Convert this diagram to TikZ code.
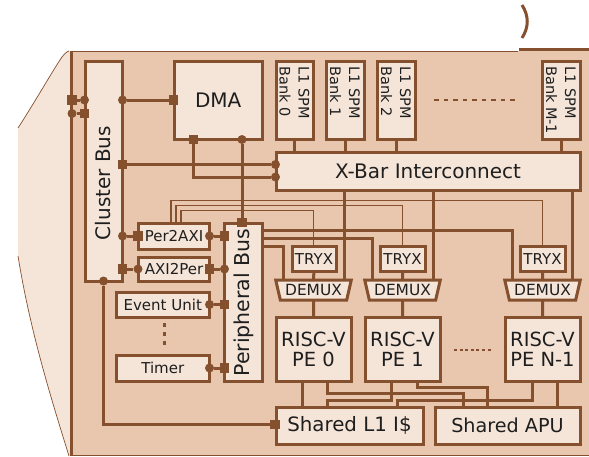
\documentclass[tikz,border=0pt]{standalone}
\usepackage{fontspec}
\setmainfont{DejaVu Sans}
\usetikzlibrary{shapes.geometric}
\definecolor{wirec}{HTML}{84502E}
\definecolor{darkf}{HTML}{E9C6AE}
\definecolor{lightf}{HTML}{F5E5D9}
\definecolor{inkc}{HTML}{1E1E1E}
\tikzset{
  wire/.style={draw=wirec,line width=3pt,line join=miter},
  thinwire/.style={draw=wirec,line width=1.5pt},
  edge/.style={draw=wirec,line width=0.7pt},
  boxn/.style={draw=wirec,fill=lightf,line width=3pt,rectangle,inner sep=0pt,outer sep=0pt,text=inkc,align=center,font=\fontsize{#1}{#1}\selectfont},
  boxn/.default=15,
  demuxn/.style={draw=wirec,fill=lightf,line width=3pt,trapezium,trapezium stretches=true,shape border rotate=180,trapezium left angle=71,trapezium right angle=71,minimum width=76pt,minimum height=20pt,inner sep=0pt,outer sep=0pt,text=inkc,font=\fontsize{15.4}{15.4}\selectfont},
  banktxt/.style={rotate=-90,anchor=west,inner sep=0pt,align=left,text=inkc,font=\fontsize{14.5}{19}\selectfont},
  rottxt/.style={rotate=90,inner sep=0pt,text=inkc,font=\fontsize{20}{20}\selectfont},
  jdot/.style={circle,fill=wirec,inner sep=0pt,minimum size=9pt},
  jsq/.style={rectangle,fill=wirec,inner sep=0pt,minimum size=9.5pt},
  dashw/.style={draw=wirec,line width=1.6pt,dash pattern=on 4.5pt off 5pt},
  dashs/.style={draw=wirec,line width=1.7pt,dash pattern=on 3pt off 2.6pt},
  dashv/.style={draw=wirec,line width=2.6pt,dash pattern=on 4pt off 5pt},
}
\newcommand{\bx}[7][15]{\node[boxn=#1,minimum width={(#5)-(#3)},minimum height={(#6)-(#4)}] (#2) at ({((#3)+(#5))/2},{((#4)+(#6))/2}) {#7};}
\begin{document}
\begin{tikzpicture}[x=1pt,y=-1pt]
\useasboundingbox (0,0) rectangle (589,456);
% chip outline
\fill[lightf] (18,128) .. controls (33,105) and (52,72) .. (60,60) .. controls (63,55) and (66,52) .. (69,51) -- (72,51) -- (72,456) -- (69,456) .. controls (50,395) and (30,330) .. (18,256) -- cycle;
\draw[edge] (18,128) .. controls (33,105) and (52,72) .. (60,60) .. controls (63,55) and (66,52) .. (69,51);
\draw[edge] (18,256) .. controls (30,330) and (50,395) .. (69,456);
\fill[darkf] (71,51) rectangle (589,456);
\draw[edge] (71,51) -- (518,51);
\draw[edge] (71,455.6) -- (589,455.6);
\coordinate (tl) at (71.5,51);
\coordinate (bl) at (71.5,456);
\draw[wire] (tl) -- (bl);
\coordinate (tr1) at (519,49.7);
\coordinate (tr2) at (589,49.7);
\draw[wire] (tr1) -- (tr2);
\coordinate (pa) at (522,5);
\coordinate (pb) at (522,38);
\draw[wire] (pa) .. controls (529,16) and (529,27) .. (pb);
% boxes
\bx[20]{cbus}{85}{61}{122.5}{281}{}
\node[rottxt] (cbust) at (103.5,183) {Cluster Bus};
\bx[20]{dma}{174}{61}{262.5}{139}{DMA}
\bx{b0}{276}{61}{313}{139}{}
\bx{b1}{326.5}{61}{364}{139}{}
\bx{b2}{377.5}{61}{415}{139}{}
\bx{bm}{542.5}{61}{580}{139}{}
\node[banktxt] (t0) at (294.5,66) {L1 SPM\\Bank 0};
\node[banktxt] (t1) at (345,66) {L1 SPM\\Bank 1};
\node[banktxt] (t2) at (396,66) {L1 SPM\\Bank 2};
\node[banktxt] (tm) at (561,66) {L1 SPM\\Bank M-1};
\bx[20]{xbar}{276}{152}{580}{190}{X-Bar Interconnect}
\bx{p2a}{138.5}{223}{209.5}{249}{Per2AXI}
\bx{a2p}{138.5}{257}{209.5}{281}{AXI2Per}
\bx{evu}{116}{292.5}{209.5}{317}{Event Unit}
\bx{tim}{116}{355}{209.5}{381}{Timer}
\bx[20]{pbus}{224.5}{223}{262.5}{381}{}
\node[rottxt] (pbust) at (243.5,302.5) {\fontsize{20.5}{20.5}\selectfont Peripheral Bus};
\bx{try0}{292}{246}{336}{271.5}{TRYX}
\bx{try1}{380}{246}{425}{271.5}{TRYX}
\bx{tryn}{520}{246}{565}{271.5}{TRYX}
\node[demuxn] (dm0) at (313.5,290) {DEMUX};
\node[demuxn] (dm1) at (402.5,290) {DEMUX};
\node[demuxn] (dmn) at (542.5,290) {DEMUX};
\bx[19.5]{pe0}{276}{317.5}{351}{381}{\fontsize{19.5}{26}\selectfont RISC-V\\PE 0}
\bx[19.5]{pe1}{365}{317.5}{440}{381}{\fontsize{19.5}{26}\selectfont RISC-V\\PE 1}
\bx[19.5]{pen}{505}{317.5}{580}{381}{\fontsize{19.5}{26}\selectfont RISC-V\\PE N-1}
\bx[19.8]{icache}{276}{407}{423}{444.5}{Shared L1 I\$}
\bx[19.2]{apu}{435}{407}{580}{444.5}{Shared APU}
% thin peripheral wires
\coordinate (p1) at (171,222);
\coordinate (p2) at (176,222);
\coordinate (p3) at (181,222);
\coordinate (ty0) at (313.5,246);
\coordinate (ty1) at (402.5,246);
\coordinate (tyn) at (542.5,246);
\draw[thinwire] (p1) -- (171,200.5) -- (tyn |- 0,200.5) -- (tyn);
\draw[thinwire] (p2) -- (176,205.5) -- (ty1 |- 0,205.5) -- (ty1);
\draw[thinwire] (p3) -- (181,210.5) -- (ty0 |- 0,210.5) -- (ty0);
% junctions
\node[jsq] (j1) at (72,100) {};
\node[jdot] (j2) at (84.5,100) {};
\node[jdot] (j3) at (72,113.5) {};
\node[jsq] (j4) at (84.5,113.5) {};
\node[jdot] (j5) at (122.5,100) {};
\node[jsq] (j6) at (173.5,100) {};
\node[jsq] (j7) at (122.5,164.5) {};
\node[jdot] (j8) at (275.5,164.5) {};
\node[jsq] (j9) at (193.5,139.5) {};
\node[jdot] (j10) at (275.5,177) {};
\node[jdot] (j11) at (242,139.5) {};
\node[jsq] (j12) at (242,222.5) {};
\node[jdot] (j13) at (122.5,236) {};
\node[jsq] (j14) at (138,236) {};
\node[jdot] (j15) at (209.5,236) {};
\node[jsq] (j16) at (224.5,236) {};
\node[jsq] (j17) at (122.5,269) {};
\node[jdot] (j18) at (138,269) {};
\node[jsq] (j19) at (209.5,269) {};
\node[jdot] (j20) at (224.5,269) {};
\node[jdot] (j21) at (209.5,304.5) {};
\node[jsq] (j22) at (224.5,304.5) {};
\node[jdot] (j23) at (209.5,368) {};
\node[jsq] (j24) at (224.5,368) {};
\node[jdot] (j25) at (103.5,281) {};
\node[jsq] (j26) at (275,424.5) {};
% wires with junctions
\draw[wire] (j1) -- (j2);
\draw[wire] (j3) -- (j4);
\draw[wire] (j5) -- (j6);
\draw[wire] (j7) -- (j8);
\draw[wire] (j9) |- (j10);
\draw[wire] (j11) -- (j12);
\draw[wire] (j13) -- (j14);
\draw[wire] (j15) -- (j16);
\draw[wire] (j17) -- (j18);
\draw[wire] (j19) -- (j20);
\draw[wire] (j21) -- (j22);
\draw[wire] (j23) -- (j24);
\draw[wire] (j25) |- (j26);
% banks to crossbar
\draw[wire] (b0.south) -- (xbar.north -| b0.south);
\draw[wire] (b1.south) -- (xbar.north -| b1.south);
\draw[wire] (b2.south) -- (xbar.north -| b2.south);
\draw[wire] (bm.south) -- (xbar.north -| bm.south);
% crossbar to demux
\coordinate (x0) at (344,190);
\coordinate (x1) at (433,190);
\coordinate (xn) at (572,190);
\draw[wire] (x0) -- (344,280);
\draw[wire] (x1) -- (433,280);
\draw[wire] (xn) -- (572,280);
% peripheral bus to demux
\coordinate (r1) at (262.5,230);
\coordinate (r2) at (262.5,238);
\coordinate (r3) at (262.5,246);
\draw[wire] (r1) -- (512,230) -- (512,280);
\draw[wire] (r2) -- (372.5,238) -- (372.5,280);
\draw[wire] (r3) -- (283,246) -- (283,280);
% tryx, demux, pe
\draw[wire] (try0) -- (dm0);
\draw[wire] (try1) -- (dm1);
\draw[wire] (tryn) -- (dmn);
\draw[wire] (dm0) -- (pe0);
\draw[wire] (dm1) -- (pe1);
\draw[wire] (dmn) -- (pen);
% pe to shared units
\coordinate (a1) at (302,381);   \coordinate (a2) at (302,407);
\coordinate (a3) at (327,381);   \coordinate (a4) at (463,407);
\coordinate (a5) at (391,381);   \coordinate (a6) at (327,407);
\coordinate (a7) at (417,381);   \coordinate (a8) at (487,407);
\coordinate (a9) at (532,381);   \coordinate (a10) at (397,407);
\coordinate (a11) at (557,381);  \coordinate (a12) at (557,407);
\draw[wire] (a1) -- (a2);
\draw[wire] (a3) -- (327,393) -- (463,393) -- (a4);
\draw[wire] (a5) -- (391,400) -- (327,400) -- (a6);
\draw[wire] (a7) -- (417,387) -- (487,387) -- (a8);
\draw[wire] (a9) -- (532,400) -- (397,400) -- (a10);
\draw[wire] (a11) -- (a12);
% dashes
\coordinate (d1) at (434,100); \coordinate (d2) at (517,100);
\draw[dashw] (d1) -- (d2);
\coordinate (d3) at (454,350); \coordinate (d4) at (491,350);
\draw[dashs] (d3) -- (d4);
\coordinate (d5) at (164.5,323); \coordinate (d6) at (164.5,349);
\draw[dashv] (d5) -- (d6);
\end{tikzpicture}
\end{document}
